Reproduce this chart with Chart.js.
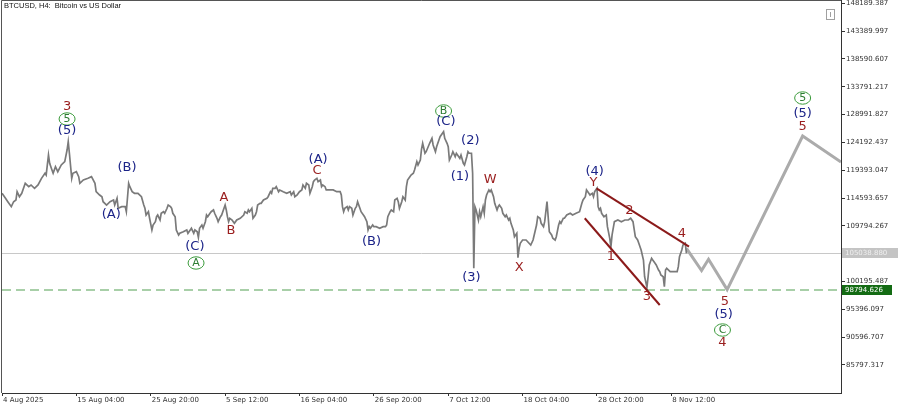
<!DOCTYPE html>
<html>
<head>
<meta charset="utf-8">
<title>BTCUSD H4</title>
<script src="https://cdn.jsdelivr.net/npm/chart.js@4.4.1/dist/chart.umd.min.js"></script>
<style>
  body { margin: 0; background: #fff; }
  canvas { display: block; }
</style>
</head>
<body>
<canvas id="chart" width="900" height="405"></canvas>
<script>
"use strict";

// H4 bar index (0 = first bar on screen) and close price
const closeSeries = [
  [0,115410],[3,114540],[5,113960],[8,113100],[10,113960],[12,114250],[13,115680],[15,114820],[17,115410],[20,117130],
  [23,116550],[25,116840],[28,116270],[31,116840],[34,117990],[37,118860],[38,118560],[40,122010],[41,120580],[43,119420],
  [44,118860],[46,119990],[48,119130],[51,120290],[54,120860],[56,122870],[57,124310],[58,122310],[60,117990],[61,118860],
  [64,119130],[66,118270],[67,117130],[70,117700],[74,117990],[77,118270],[80,117130],[81,115680],[84,115110],[86,114820],
  [87,113960],[90,113390],[93,113960],[96,114250],[97,113390],[99,114540],[100,112820],[103,113100],[106,113100],[107,112230],
  [109,117130],[110,116550],[112,115680],[114,115410],[117,115410],[120,114820],[122,113390],[123,112820],[124,111660],[126,112230],
  [127,111100],[129,109080],[130,109940],[132,110510],[133,111370],[134,111660],[136,110800],[137,111960],[139,112230],[140,111960],
  [142,112820],[143,113390],[145,113100],[146,112820],[147,111960],[149,111370],[150,109080],[152,108220],[153,108510],[156,108780],
  [159,109080],[160,108510],[162,109080],[163,109370],[165,108510],[166,109080],[168,108780],[169,107800],[170,109370],[172,109940],
  [173,109370],[175,110510],[176,111660],[177,111370],[179,111960],[180,112230],[182,112530],[183,111960],[185,111100],[186,110510],
  [188,111370],[189,111660],[190,112230],[192,113390],[193,112530],[194,111370],[195,110510],[196,111100],[198,110800],[199,110510],
  [200,110230],[202,110800],[205,111100],[208,111660],[209,112230],[211,111960],[212,112530],[213,112230],[215,112820],[216,111100],
  [218,111660],[219,112230],[220,113390],[222,113680],[223,113680],[225,114250],[228,114540],[229,114820],[231,115680],[232,115410],
  [233,116270],[235,116270],[236,116550],[238,115680],[239,115980],[242,115680],[245,115410],[248,115680],[249,115110],[251,115680],
  [252,114820],[254,115110],[255,115410],[256,115680],[258,115980],[259,116840],[261,116270],[262,117130],[264,116840],[265,115410],
  [267,116550],[268,117410],[269,117700],[271,117990],[272,117410],[274,117700],[275,116550],[276,116840],[278,116550],[279,115980],
  [282,115980],[285,115980],[288,115680],[291,115680],[292,115110],[293,113100],[294,112230],[295,112820],[297,113100],[298,112530],
  [299,113100],[301,112820],[302,111660],[304,112820],[305,113100],[306,113960],[308,112820],[309,112230],[311,111660],[312,111370],
  [314,110510],[315,109080],[316,109650],[317,109370],[319,109940],[320,109650],[322,109650],[325,109370],[328,109650],[330,109650],
  [331,109940],[332,111370],[334,112230],[335,112530],[337,112230],[338,114250],[340,114540],[341,113960],[342,112820],[344,113960],
  [345,114820],[347,114250],[348,116550],[349,117700],[351,118270],[352,118560],[354,118860],[355,119420],[357,120860],[358,120290],
  [360,121150],[361,123000],[362,124030],[364,122310],[365,122580],[368,124030],[370,124890],[371,123740],[373,122580],[374,123440],
  [376,124600],[377,125170],[378,125460],[380,126030],[381,124890],[383,124030],[384,123440],[385,121150],[387,122010],[388,122580],
  [390,121720],[391,122310],[394,121440],[395,122010],[397,120580],[398,120290],[400,121720],[401,122580],[402,122310],[404,122310],
  [405,118860],[406,102470],[407,113100],[408,112530],[410,110800],[411,112230],[412,111370],[414,113100],[415,111960],[416,114250],
  [417,115110],[419,115980],[420,115680],[421,115980],[423,114820],[424,113680],[426,112530],[427,113100],[428,113390],[430,112820],
  [431,111960],[433,111370],[434,111660],[436,110800],[437,111100],[438,110230],[440,109080],[441,107920],[443,108510],[444,104300],
  [445,105920],[446,106780],[448,107350],[451,107350],[455,106490],[457,107350],[460,109940],[461,111370],[463,111100],[464,110230],
  [466,109650],[467,110510],[469,113960],[470,111370],[471,108780],[473,108220],[474,107650],[476,107350],[477,107920],[479,109940],
  [480,110510],[481,110230],[483,111100],[484,111100],[486,111660],[489,111960],[491,111660],[494,111960],[497,112230],[499,113680],
  [500,114250],[502,114820],[503,115980],[505,115410],[506,115110],[508,115410],[509,114820],[510,115680],[512,116270],[513,113100],
  [514,112530],[515,112820],[516,111960],[518,111370],[520,111660],[521,109650],[523,107650],[524,106200],[525,108220],[527,110510],
  [530,110800],[533,110510],[536,110800],[539,110800],[541,111100],[543,110510],[545,107920],[547,107350],[548,106780],[550,105630],
  [552,103900],[553,101020],[555,99200],[556,101020],[557,103040],[559,104200],[560,103900],[562,103330],[563,103040],[565,102180],
  [566,101890],[567,101320],[569,101020],[570,99300],[571,102180],[572,102470],[575,101890],[578,101890],[581,101890],[582,102750],
  [583,104470],[585,105630],[586,106490],[588,106780],[589,105040]
];

// forecast path (grey thick line)
const forecastPath = [[589,105900],[602,102090],[608,104030],[624,98790],[689,125290],[722,120800]];

// wedge lines
const upperWedge = [[511.6,116270],[591.2,106200]];
const lowerWedge = [[501.5,111100],[566,96144]];

// wave labels: text, bar, price, kind
const waveLabels = [
  ["3", 56, 130290, "red"], ["5", 56, 128220, "green"], ["(5)", 56, 126150, "blue"],
  ["(B)", 107.5, 119770, "blue"], ["(A)", 94, 111660, "blue"],
  ["(C)", 166, 106150, "blue"], ["A", 167, 103390, "green"],
  ["A", 191, 114600, "red"], ["B", 197, 108900, "red"],
  ["(A)", 272, 121150, "blue"], ["C", 271, 119250, "red"],
  ["(B)", 318, 107010, "blue"],
  ["B", 380, 129600, "green"], ["(C)", 382, 127700, "blue"],
  ["(2)", 403, 124430, "blue"], ["(1)", 394, 118220, "blue"],
  ["W", 420, 117700, "red"], ["(3)", 404, 100800, "blue"], ["X", 445, 102520, "red"],
  ["(4)", 510, 119080, "blue"], ["Y", 509, 117180, "red"],
  ["2", 540, 112350, "red"], ["1", 524, 104420, "red"], ["3", 555, 97520, "red"], ["4", 585, 108390, "red"],
  ["5", 622, 96660, "red"], ["(5)", 621, 94420, "blue"], ["C", 620, 91830, "green"], ["4", 620, 89590, "red"],
  ["5", 689, 131840, "green"], ["(5)", 689, 129080, "blue"], ["5", 689, 126840, "red"]
];

const tickBars = [0, 64, 128, 192, 256, 320, 384, 448, 512, 576];
const tickLabels = ["4 Aug 2025", "15 Aug 04:00", "25 Aug 20:00", "5 Sep 12:00", "16 Sep 04:00",
  "26 Sep 20:00", "7 Oct 12:00", "18 Oct 04:00", "28 Oct 20:00", "8 Nov 12:00"];
const priceTicks = [85797.317, 90596.707, 95396.097, 100195.487, 109794.267, 114593.657,
  119393.047, 124192.437, 128991.827, 133791.217, 138590.607, 143389.997, 148189.387];

const lastPrice = 105038.880;
const supportLevel = 98794.626;
const chartTitle = "BTCUSD, H4:  Bitcoin vs US Dollar";

const colors = { red: "#9a1e1e", blue: "#1c2488", green: "#2e7d32" };

function toPoints(pairs) {
  return pairs.map(p => ({ x: p[0], y: p[1] }));
}

const wavePlugin = {
  id: "waves",
  beforeDatasetsDraw(chart) {
    const ctx = chart.ctx;
    const area = chart.chartArea;
    const y = chart.scales.y;
    ctx.save();
    let py = Math.round(y.getPixelForValue(lastPrice)) + 0.5;
    ctx.strokeStyle = "#c8c8c8";
    ctx.lineWidth = 1;
    ctx.beginPath();
    ctx.moveTo(area.left, py);
    ctx.lineTo(area.right, py);
    ctx.stroke();

    py = Math.round(y.getPixelForValue(supportLevel));
    ctx.strokeStyle = "#8cc08c";
    ctx.lineWidth = 1.5;
    ctx.setLineDash([9, 5]);
    ctx.beginPath();
    ctx.moveTo(area.left, py);
    ctx.lineTo(area.right, py);
    ctx.stroke();
    ctx.restore();
  },
  afterDatasetsDraw(chart) {
    const ctx = chart.ctx;
    const xs = chart.scales.x;
    const ys = chart.scales.y;
    const area = chart.chartArea;
    ctx.save();
    ctx.textAlign = "center";
    ctx.textBaseline = "middle";
    for (let i = 0; i < waveLabels.length; i++) {
      const [text, bar, price, kind] = waveLabels[i];
      const px = xs.getPixelForValue(bar);
      const py = ys.getPixelForValue(price);
      if (kind === "green") {
        ctx.strokeStyle = "#3a9a3a";
        ctx.lineWidth = 1;
        ctx.beginPath();
        ctx.ellipse(px, py, 8, 6.2, 0, 0, Math.PI * 2);
        ctx.stroke();
        ctx.font = "11px 'DejaVu Sans'";
        ctx.fillStyle = colors.green;
        ctx.fillText(text, px, py + 0.5);
      } else {
        ctx.font = "13px 'DejaVu Sans'";
        ctx.fillStyle = colors[kind];
        ctx.fillText(text, px, py);
      }
    }

    // price boxes on the axis
    ctx.font = "7px 'DejaVu Sans'";
    ctx.textAlign = "left";
    let py = Math.round(ys.getPixelForValue(lastPrice));
    ctx.fillStyle = "#c4c4c4";
    ctx.fillRect(area.right + 1, py - 5, 56, 10);
    ctx.fillStyle = "#efefef";
    ctx.fillText(lastPrice.toFixed(3), area.right + 4, py);

    py = Math.round(ys.getPixelForValue(supportLevel));
    ctx.fillStyle = "#136b13";
    ctx.fillRect(area.right + 1, py - 5, 50, 10);
    ctx.fillStyle = "#ffffff";
    ctx.fillText(supportLevel.toFixed(3), area.right + 4, py);
    ctx.restore();
  },
  afterDraw(chart) {
    const ctx = chart.ctx;
    const area = chart.chartArea;
    ctx.save();
    ctx.strokeStyle = "#555";
    ctx.lineWidth = 1;
    ctx.beginPath();
    ctx.moveTo(1.5, area.bottom);
    ctx.lineTo(1.5, 0.5);
    ctx.lineTo(area.right, 0.5);
    ctx.stroke();

    ctx.font = "7.5px 'Liberation Sans'";
    ctx.fillStyle = "#111";
    ctx.textBaseline = "top";
    ctx.fillText(chartTitle, 4, 2);

    // small box in top right corner
    ctx.strokeStyle = "#a0a0a0";
    ctx.strokeRect(826.5, 9.5, 8, 10);
    ctx.beginPath();
    ctx.moveTo(830.5, 12);
    ctx.lineTo(830.5, 17);
    ctx.stroke();
    ctx.restore();
  }
};

const config = {
  type: "line",
  data: {
    datasets: [
      {
        label: "BTCUSD",
        data: toPoints(closeSeries),
        borderColor: "#7a7a7a",
        borderWidth: 1.7,
        pointRadius: 0,
        tension: 0,
        order: 2
      },
      {
        label: "forecast",
        data: toPoints(forecastPath),
        borderColor: "#ababab",
        borderWidth: 3,
        pointRadius: 0,
        tension: 0,
        order: 3
      },
      {
        label: "upper",
        data: toPoints(upperWedge),
        borderColor: "#8b1a1a",
        borderWidth: 2,
        pointRadius: 0,
        order: 1
      },
      {
        label: "lower",
        data: toPoints(lowerWedge),
        borderColor: "#8b1a1a",
        borderWidth: 2,
        pointRadius: 0,
        order: 1
      }
    ]
  },
  options: {
    responsive: false,
    animation: false,
    devicePixelRatio: 1,
    layout: { padding: { left: 2, top: 0, right: 0, bottom: 0 } },
    plugins: {
      legend: { display: false },
      tooltip: { enabled: false }
    },
    scales: {
      x: {
        type: "linear",
        min: 0,
        max: 722,
        border: { display: true, color: "#333", width: 1 },
        grid: { drawOnChartArea: false, drawTicks: true, tickLength: 3, color: "#333" },
        ticks: {
          font: { family: "DejaVu Sans", size: 7 },
          color: "#333",
          align: "start",
          labelOffset: 1,
          padding: 0,
          maxRotation: 0,
          autoSkip: false,
          callback: function (value) {
            const i = tickBars.indexOf(value);
            return i >= 0 ? tickLabels[i] : "";
          }
        },
        afterBuildTicks: function (scale) {
          scale.ticks = tickBars.map(v => ({ value: v }));
        },
        afterFit: function (scale) {
          scale.height = 12;
          scale.paddingLeft = 0;
          scale.paddingRight = 0;
        }
      },
      y: {
        position: "right",
        min: 80968,
        max: 148741,
        border: { display: true, color: "#333", width: 1 },
        grid: { drawOnChartArea: false, drawTicks: true, tickLength: 4, color: "#333" },
        ticks: {
          font: { family: "DejaVu Sans", size: 7 },
          color: "#333",
          padding: 1,
          callback: function (value) {
            return value.toFixed(3);
          }
        },
        afterBuildTicks: function (scale) {
          scale.ticks = priceTicks.map(v => ({ value: v }));
        },
        afterFit: function (scale) {
          scale.width = 59;
          scale.paddingTop = 0;
          scale.paddingBottom = 0;
        }
      }
    }
  },
  plugins: [wavePlugin]
};

const btcChart = new Chart(document.getElementById("chart"), config);
</script>
</body>
</html>
